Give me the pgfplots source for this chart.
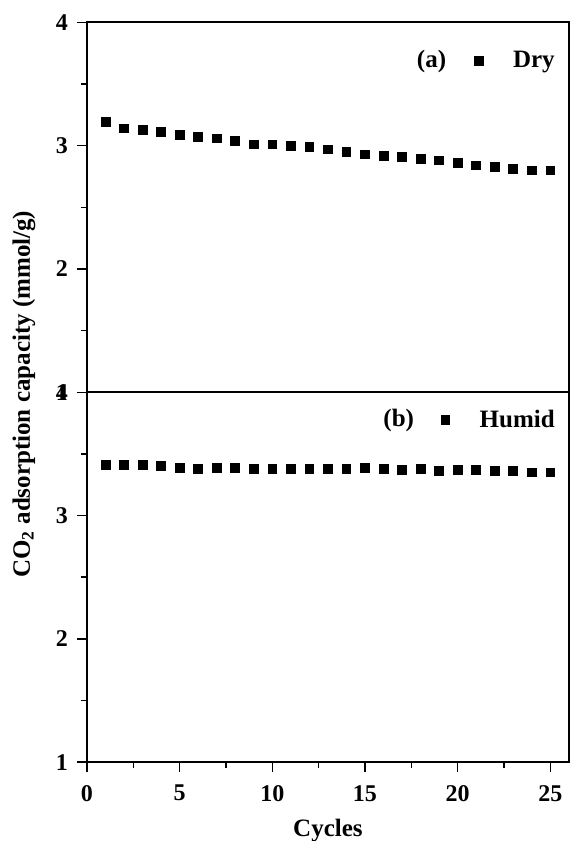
\documentclass[border=0pt]{standalone}
\usepackage{fontspec}
\setmainfont{Liberation Serif}
\usepackage{pgfplots}
\pgfplotsset{compat=1.18}

% CO2 uptake over repeated adsorption/desorption cycles
\pgfplotstableread{
cycle cap
1  3.19
2  3.14
3  3.13
4  3.11
5  3.09
6  3.07
7  3.06
8  3.04
9  3.01
10 3.01
11 3.00
12 2.99
13 2.97
14 2.95
15 2.93
16 2.92
17 2.91
18 2.89
19 2.88
20 2.86
21 2.84
22 2.83
23 2.81
24 2.80
25 2.80
}\drydata

\pgfplotstableread{
cycle cap
1  3.41
2  3.41
3  3.41
4  3.40
5  3.39
6  3.38
7  3.39
8  3.39
9  3.38
10 3.38
11 3.38
12 3.38
13 3.38
14 3.38
15 3.39
16 3.38
17 3.37
18 3.38
19 3.36
20 3.37
21 3.37
22 3.36
23 3.36
24 3.35
25 3.35
}\humiddata

\pgfplotsset{
  cyclepanel/.style={
    scale only axis,
    width=241pt, height=185pt,
    xmin=0, xmax=26,
    ymin=1, ymax=4,
    ytick={1,2,3,4},
    minor y tick num=1,
    axis line style={line width=0.9pt},
    every tick/.style={black, line width=0.8pt},
    tick align=outside,
    major tick length=5pt,
    minor tick length=3pt,
    ytick pos=left,
    xtick pos=bottom,
    /pgf/number format/assume math mode=true,
    tick label style={font=\bfseries\fontsize{12}{14}\selectfont},
    yticklabel style={xshift=-1pt},
    legend style={draw=none, fill=none, font=\bfseries\fontsize{12.5}{14}\selectfont,
      inner sep=1pt},
    legend image code/.code={%
      \path (-4pt,0pt) (15pt,0pt);
      \draw[##1] plot coordinates {(0pt,0pt)};},
    clip=false,
  },
  cyclemarks/.style={only marks, mark=square*, mark size=2.2pt, black},
}

\begin{document}
\begin{tikzpicture}
\useasboundingbox (-43.5pt,-39.4pt) rectangle (241.5pt,381.2pt);

% (b) humid feed, lower panel with the cycle axis
\begin{axis}[cyclepanel,
  at={(0pt,0pt)}, anchor=south west,
  xtick={0,5,10,15,20,25},
  minor x tick num=1,
  xticklabel style={yshift=-3pt},
  xlabel={\bfseries\fontsize{12.5}{14}\selectfont Cycles},
  xlabel style={yshift=-2pt},
  legend style={at={(rel axis cs:0.984,0.925)}, anchor=east},
]
\addplot[cyclemarks] table[x=cycle, y=cap] {\humiddata};
\addlegendentry{Humid}
\node[font=\bfseries\fontsize{12.5}{14}\selectfont] at (rel axis cs:0.647,0.925) {(b)};
\end{axis}

% (a) dry feed, upper panel sharing the cycle axis
\begin{axis}[cyclepanel,
  at={(0pt,185pt)}, anchor=south west,
  xtick=\empty,
  legend style={at={(rel axis cs:0.984,0.895)}, anchor=east},
]
\addplot[cyclemarks] table[x=cycle, y=cap] {\drydata};
\addlegendentry{Dry}
\node[font=\bfseries\fontsize{12.5}{14}\selectfont] at (rel axis cs:0.715,0.895) {(a)};
\end{axis}

\node[rotate=90, font=\bfseries\fontsize{12.5}{14}\selectfont]
  at (-31.5pt,184pt) {CO\textsubscript{2} adsorption capacity (mmol/g)};
\end{tikzpicture}
\end{document}
